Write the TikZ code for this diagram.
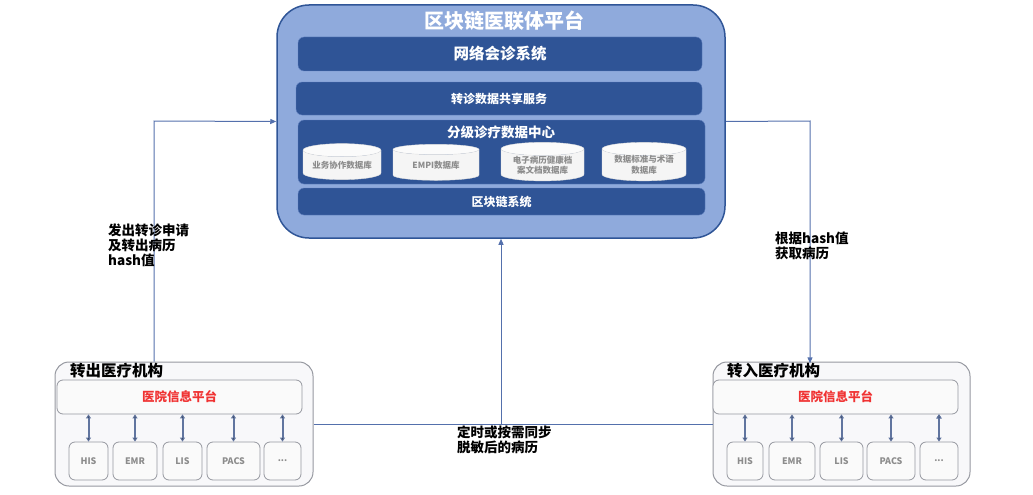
\documentclass[tikz,border=0pt]{standalone}
\usepackage{fontspec}
\setmainfont{Noto Sans CJK SC}
\usepackage{tikz}
\usetikzlibrary{positioning, calc}
\usetikzlibrary{arrows.meta}
\usetikzlibrary{shapes}

\definecolor{platfill}{RGB}{143,170,220}
\definecolor{platline}{RGB}{47,85,151}
\definecolor{bardark}{RGB}{47,84,150}
\definecolor{barline}{RGB}{96,128,190}
\definecolor{linkblue}{RGB}{84,112,172}
\definecolor{hospfill}{RGB}{248,248,250}
\definecolor{hospline}{RGB}{150,152,160}
\definecolor{subtext}{RGB}{140,140,140}
\definecolor{hisred}{RGB}{240,50,50}

\begin{document}
\begin{tikzpicture}[x=1pt,y=-1pt,>={Triangle[length=6pt,width=5pt]}]
	\def \linkrow{121}
	\def \subrow{461}
	\tikzstyle{plat}=[draw=platline,fill=platfill,line width=1.5pt,rounded corners=32pt,inner sep=0pt]
	\tikzstyle{bar}=[draw=barline,fill=bardark,rounded corners=6pt,inner sep=0pt,text=white,font=\fontsize{12}{14}\selectfont\bfseries]
	\tikzstyle{dbase}=[cylinder,shape border rotate=90,aspect=0.22,draw=white!75!gray,cylinder uses custom fill,cylinder body fill=white!92!gray,cylinder end fill=white!97!gray,inner sep=0pt,text=subtext,align=center,font=\fontsize{8.5}{10.5}\selectfont\bfseries]
	\tikzstyle{hosp}=[draw=hospline,fill=hospfill,line width=1pt,rounded corners=14pt,inner sep=0pt]
	\tikzstyle{hisplat}=[draw=hospline,fill=white!96!gray,line width=0.8pt,rounded corners=6pt,inner sep=0pt,minimum width=245,minimum height=34,text=hisred,font=\fontsize{12.5}{14}\selectfont\bfseries]
	\tikzstyle{sys}=[draw=hospline,fill=white!96!gray,line width=0.8pt,rounded corners=6pt,inner sep=0pt,minimum height=38,text=subtext,font=\fontsize{9}{10}\selectfont\bfseries]
	\tikzstyle{lbl}=[inner sep=0pt,anchor=north west,align=left,font=\fontsize{13.5}{15}\selectfont\bfseries]
	\tikzstyle{link}=[draw=linkblue,line width=1pt,->]
	\tikzstyle{bus}=[draw=linkblue!70!gray,line width=2pt,{Triangle[length=4pt,width=5pt]}-{Triangle[length=4pt,width=5pt]}]
	\useasboundingbox (0,0) rectangle (1033,495);

	% blockchain platform
	\node[plat,minimum width=448,minimum height=233] 	(platform)	at (501,121.5)	{};
	\node[inner sep=0pt,text=white,font=\fontsize{20}{22}\selectfont\bfseries] 	(plattitle)	at (504,21)	{区块链医联体平台};
	\node[bar,minimum width=404,minimum height=34,font=\fontsize{15.5}{17}\selectfont\bfseries] 	(consult)	at (500,54)	{网络会诊系统};
	\node[bar,minimum width=406,minimum height=33] 	(share)	at (499,98.5)	{转诊数据共享服务};
	\node[bar,minimum width=407,minimum height=64] 	(center)	at (501.5,152)	{};
	\node[inner sep=0pt,text=white,font=\fontsize{13.5}{15}\selectfont\bfseries] 	(centertitle)	at (501,132)	{分级诊疗数据中心};
	\node[bar,minimum width=407,minimum height=27] 	(chain)	at (501.5,201.5)	{区块链系统};

	% databases
	\node[dbase,minimum width=78,minimum height=36] 	(db1)	at (342,165)	{业务协作数据库};
	\node[dbase,minimum width=86,minimum height=36] 	(db2)	at (436,165)	{EMPI数据库};
	\node[dbase,minimum width=83,minimum height=36] 	(db3)	at (542.5,165)	{电子病历健康档\\案文档数据库};
	\node[dbase,minimum width=84,minimum height=36] 	(db4)	at (644,165)	{数据标准与术语\\数据库};

	% referring hospital
	\node[hosp,minimum width=258,minimum height=124] 	(outhosp)	at (184,424)	{};
	\node[hisplat] 	(outplat)	at (179.5,397)	{医院信息平台};
	\node[inner sep=0pt,anchor=west,font=\fontsize{15.5}{17}\selectfont\bfseries] 	(outtitle)	at (70,371)	{转出医疗机构};
	\node[sys,minimum width=39] 	(ohis)	at (88.5,\subrow)	{HIS};
	\node[sys,minimum width=44] 	(oemr)	at (135,\subrow)	{EMR};
	\node[sys,minimum width=39] 	(olis)	at (182.5,\subrow)	{LIS};
	\node[sys,minimum width=53] 	(opacs)	at (233.5,\subrow)	{PACS};
	\node[sys,minimum width=37] 	(odots)	at (282.5,\subrow)	{...};

	% receiving hospital
	\node[hosp,minimum width=257,minimum height=124] 	(inhosp)	at (841.5,424)	{};
	\node[hisplat] 	(inplat)	at (835.5,397)	{医院信息平台};
	\node[inner sep=0pt,anchor=west,font=\fontsize{15.5}{17}\selectfont\bfseries] 	(intitle)	at (727,371)	{转入医疗机构};
	\node[sys,minimum width=36] 	(ihis)	at (745,\subrow)	{HIS};
	\node[sys,minimum width=46] 	(iemr)	at (792,\subrow)	{EMR};
	\node[sys,minimum width=43] 	(ilis)	at (841.5,\subrow)	{LIS};
	\node[sys,minimum width=48] 	(ipacs)	at (891,\subrow)	{PACS};
	\node[sys,minimum width=38] 	(idots)	at (939,\subrow)	{...};

	\path[bus]
		(outplat.south -| ohis)	edge	(ohis)
		(outplat.south -| oemr)	edge	(oemr)
		(outplat.south -| olis)	edge	(olis)
		(outplat.south -| opacs)	edge	(opacs)
		(outplat.south -| odots)	edge	(odots)
		(inplat.south -| ihis)	edge	(ihis)
		(inplat.south -| iemr)	edge	(iemr)
		(inplat.south -| ilis)	edge	(ilis)
		(inplat.south -| ipacs)	edge	(ipacs)
		(inplat.south -| idots)	edge	(idots);

	% links
	\coordinate 	(bendL)	at (154,\linkrow);
	\coordinate 	(bendR)	at (810,\linkrow);
	\coordinate 	(sync)	at (platform.south |- outhosp.east);
	\draw[link] (bendL |- outhosp.north) -- (bendL) -- (platform.west);
	\draw[link] (platform.east) -- (bendR) -- (bendR |- intitle.north);
	\draw[link,-] (outhosp.east) -- (inhosp.west);
	\draw[link] (sync) -- (platform.south);

	% labels
	\node[lbl] 	(sendlbl)	at (108,224)	{发出转诊申请\\及转出病历\\hash值};
	\node[lbl] 	(fetchlbl)	at (775,232)	{根据hash值\\获取病历};
	\node[lbl] 	(synclbl)	at (457,426)	{定时或按需同步\\脱敏后的病历};
\end{tikzpicture}
\end{document}
